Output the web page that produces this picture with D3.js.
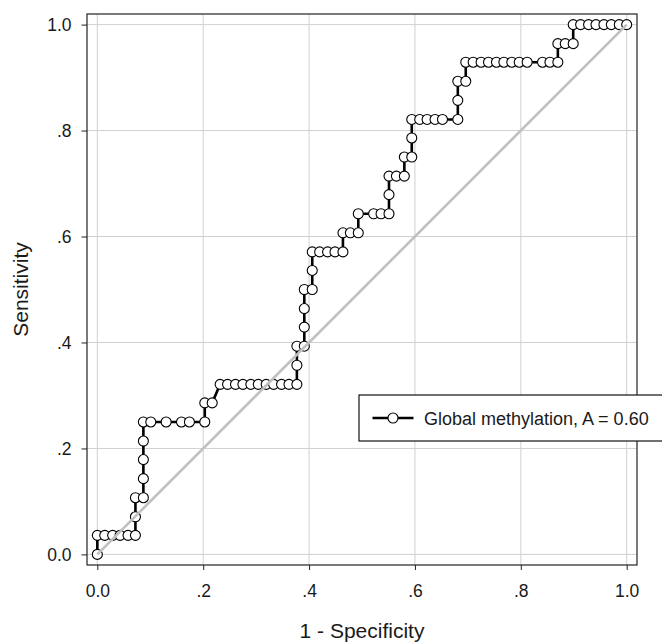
<!DOCTYPE html>
<html>
<head>
<meta charset="utf-8">
<script src="https://cdn.jsdelivr.net/npm/d3@7"></script>
<style>
  body { margin: 0; background: #fff; }
  text { font-family: "Liberation Sans", Arial, sans-serif; fill: #1a1a1a; }
</style>
</head>
<body>
<div id="viz"></div>
<script>
// ROC points (1 - specificity, sensitivity)
var fpr = [0.000, 0.000, 0.014, 0.029, 0.043, 0.058, 0.072, 0.072, 0.072, 0.087,
           0.087, 0.087, 0.087, 0.087, 0.101, 0.130, 0.159, 0.174, 0.203, 0.203,
           0.217, 0.232, 0.246, 0.261, 0.275, 0.290, 0.304, 0.319, 0.333, 0.348,
           0.362, 0.377, 0.377, 0.377, 0.391, 0.391, 0.391, 0.391, 0.406, 0.406,
           0.406, 0.420, 0.435, 0.449, 0.464, 0.464, 0.478, 0.493, 0.493, 0.522,
           0.536, 0.551, 0.551, 0.551, 0.565, 0.580, 0.580, 0.594, 0.594, 0.594,
           0.609, 0.623, 0.638, 0.652, 0.681, 0.681, 0.681, 0.696, 0.696, 0.710,
           0.725, 0.739, 0.754, 0.768, 0.783, 0.797, 0.812, 0.841, 0.855, 0.870,
           0.870, 0.884, 0.899, 0.899, 0.913, 0.928, 0.942, 0.957, 0.971, 0.986,
           1.000];
var sens = [0.000, 0.036, 0.036, 0.036, 0.036, 0.036, 0.036, 0.071, 0.107, 0.107,
            0.143, 0.179, 0.214, 0.250, 0.250, 0.250, 0.250, 0.250, 0.250, 0.286,
            0.286, 0.321, 0.321, 0.321, 0.321, 0.321, 0.321, 0.321, 0.321, 0.321,
            0.321, 0.321, 0.357, 0.393, 0.393, 0.429, 0.464, 0.500, 0.500, 0.536,
            0.571, 0.571, 0.571, 0.571, 0.571, 0.607, 0.607, 0.607, 0.643, 0.643,
            0.643, 0.643, 0.679, 0.714, 0.714, 0.714, 0.750, 0.750, 0.786, 0.821,
            0.821, 0.821, 0.821, 0.821, 0.821, 0.857, 0.893, 0.893, 0.929, 0.929,
            0.929, 0.929, 0.929, 0.929, 0.929, 0.929, 0.929, 0.929, 0.929, 0.929,
            0.964, 0.964, 0.964, 1.000, 1.000, 1.000, 1.000, 1.000, 1.000, 1.000,
            1.000];
var tickValues = [0, 0.2, 0.4, 0.6, 0.8, 1.0];
var tickLabels = ["0.0", ".2", ".4", ".6", ".8", "1.0"];
var legendLabel = "Global methylation, A = 0.60";

var width = 662,
    height = 643;

var svg = d3.select("#viz")
  .append("svg")
  .attr("width", width)
  .attr("height", height);

// plot region (frame) and scales
var frame = {left: 87, right: 637, top: 14, bottom: 565};
var xScale = d3.scaleLinear().domain([-0.0195, 1.0195]).range([frame.left, frame.right]),
    yScale = d3.scaleLinear().domain([-0.02, 1.02]).range([frame.bottom, frame.top]);

var fmt = function(d) { return tickLabels[tickValues.indexOf(d)]; };

// grid lines
svg.append("g")
  .selectAll("line.gx")
  .data(tickValues)
  .enter().append("line")
  .attr("x1", d => xScale(d)).attr("x2", d => xScale(d))
  .attr("y1", frame.top).attr("y2", frame.bottom)
  .attr("stroke", "#d0d0d0").attr("stroke-width", 1);
svg.append("g")
  .selectAll("line.gy")
  .data(tickValues)
  .enter().append("line")
  .attr("y1", d => yScale(d)).attr("y2", d => yScale(d))
  .attr("x1", frame.left).attr("x2", frame.right)
  .attr("stroke", "#d0d0d0").attr("stroke-width", 1);

// axes
var xAxis = svg.append("g")
  .attr("transform", "translate(0," + frame.bottom + ")")
  .call(d3.axisBottom(xScale).tickValues(tickValues).tickFormat(fmt).tickSize(5).tickPadding(15));
var yAxis = svg.append("g")
  .attr("transform", "translate(" + frame.left + ",0)")
  .call(d3.axisLeft(yScale).tickValues(tickValues).tickFormat(fmt).tickSize(5.5).tickPadding(10));

svg.selectAll(".domain").style("display", "none");
svg.selectAll(".tick line").attr("stroke", "#222");
svg.selectAll(".tick text")
  .style("font-size", "17.5px")
  .style("font-family", "'Liberation Sans', Arial, sans-serif")
  .attr("fill", "#1a1a1a");

// frame
svg.append("rect")
  .attr("x", frame.left).attr("y", frame.top)
  .attr("width", frame.right - frame.left)
  .attr("height", frame.bottom - frame.top)
  .attr("fill", "none")
  .attr("stroke", "#222")
  .attr("stroke-width", 1.2);

// ROC curve
var pts = fpr.map((f, i) => ({x: f, y: sens[i]}));
var line = d3.line()
  .x(d => xScale(d.x))
  .y(d => yScale(d.y));

svg.append("path")
  .datum(pts)
  .attr("fill", "none")
  .attr("stroke", "#000")
  .attr("stroke-width", 2.6)
  .attr("d", line);

svg.append("g")
  .selectAll("circle")
  .data(pts)
  .enter().append("circle")
  .attr("cx", d => xScale(d.x))
  .attr("cy", d => yScale(d.y))
  .attr("r", 5)
  .attr("fill", "#fff")
  .attr("stroke", "#000")
  .attr("stroke-width", 1.1);

// reference line
svg.append("line")
  .attr("x1", xScale(0)).attr("y1", yScale(0))
  .attr("x2", xScale(1)).attr("y2", yScale(1))
  .attr("stroke", "#c0c0c0")
  .attr("stroke-width", 2.6);

// axis titles
svg.append("text")
  .attr("x", (frame.left + frame.right) / 2)
  .attr("y", 638)
  .attr("text-anchor", "middle")
  .style("font-size", "21px")
  .text("1 - Specificity");

svg.append("text")
  .attr("transform", "translate(27.5," + (frame.top + frame.bottom) / 2 + ") rotate(-90)")
  .attr("text-anchor", "middle")
  .style("font-size", "21px")
  .text("Sensitivity");

// legend
var legend = svg.append("g");
legend.append("rect")
  .attr("x", 359).attr("y", 395)
  .attr("width", 320).attr("height", 46)
  .attr("fill", "#fff")
  .attr("stroke", "#111")
  .attr("stroke-width", 1.2);
legend.append("line")
  .attr("x1", 372.5).attr("x2", 413.5)
  .attr("y1", 418).attr("y2", 418)
  .attr("stroke", "#000")
  .attr("stroke-width", 2.6);
legend.append("circle")
  .attr("cx", 393).attr("cy", 418).attr("r", 5)
  .attr("fill", "#fff")
  .attr("stroke", "#000")
  .attr("stroke-width", 1.1);
legend.append("text")
  .attr("x", 424).attr("y", 424.5)
  .style("font-size", "18px")
  .text(legendLabel);
</script>
</body>
</html>
